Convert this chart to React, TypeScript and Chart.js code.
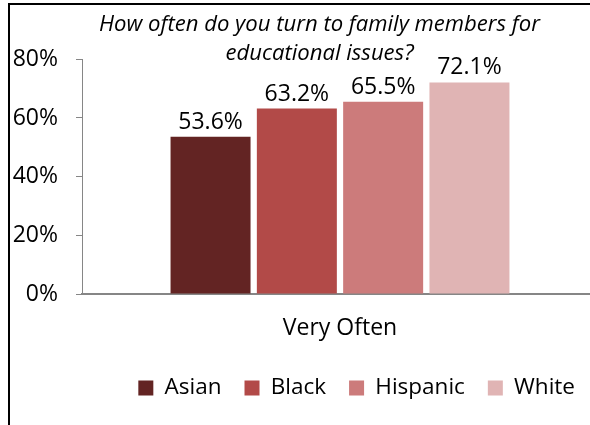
import { useEffect, useRef } from 'react';
import { Chart, registerables } from 'chart.js';

Chart.register(...registerables);

const categories = ['Very Often'];
const seriesNames = ['Asian', 'Black', 'Hispanic', 'White'];
const asianValues = [53.6];
const blackValues = [63.2];
const hispanicValues = [65.5];
const whiteValues = [72.1];
const yTicks = [0, 20, 40, 60, 80];
const titleLines = ['How often do you turn to family members for', 'educational issues?'];
const seriesColors = ['#632423', '#B24A48', '#CC7B7B', '#E0B4B4'];

const FAMILY = '"Open Sans", sans-serif';
const AXIS_GRAY = '#868686';

export default function App() {
  const ref = useRef<HTMLCanvasElement>(null);

  useEffect(() => {
    const canvas = ref.current;
    if (!canvas) return;

    const framePlugin = {
      id: 'frame',
      beforeDraw(chart: any) {
        const ctx = chart.ctx;
        ctx.save();
        ctx.fillStyle = '#ffffff';
        ctx.fillRect(0, 0, chart.width, chart.height);
        ctx.fillStyle = '#000000';
        ctx.fillRect(8, 3, 2, chart.height);
        ctx.fillRect(8, 3, chart.width, 2);
        ctx.restore();
      },
    };

    const valueLabelPlugin = {
      id: 'valueLabels',
      afterDatasetsDraw(chart: any) {
        const ctx = chart.ctx;
        ctx.save();
        ctx.font = `23px ${FAMILY}`;
        ctx.fillStyle = '#000000';
        ctx.textAlign = 'center';
        ctx.textBaseline = 'alphabetic';
        chart.data.datasets.forEach((ds: any, i: number) => {
          const meta = chart.getDatasetMeta(i);
          meta.data.forEach((el: any, j: number) => {
            const v = ds.data[j] as number;
            ctx.fillText(v.toFixed(1) + '%', el.x, el.y - 8);
          });
        });
        ctx.restore();
      },
    };

    const allValues = [asianValues, blackValues, hispanicValues, whiteValues];

    const chart = new Chart(canvas, {
      type: 'bar',
      data: {
        labels: categories,
        datasets: seriesNames.map((name, i) => ({
          label: name,
          data: allValues[i],
          backgroundColor: seriesColors[i],
          borderWidth: 0,
          categoryPercentage: 0.669,
          barPercentage: 0.927,
        })),
      },
      options: {
        responsive: false,
        animation: false,
        devicePixelRatio: 1,
        events: [],
        layout: { padding: { left: 8, right: 0, top: 0, bottom: 20.75 } },
        plugins: {
          title: {
            display: true,
            text: titleLines,
            color: '#000000',
            font: { family: FAMILY, size: 22.1, style: 'italic', weight: 'normal', lineHeight: '29px' },
            padding: { top: 10, bottom: -8.7 },
          },
          legend: {
            position: 'bottom',
            align: 'end',
            fullSize: false,
            labels: {
              boxWidth: 15,
              boxHeight: 15,
              padding: 23,
              color: '#000000',
              font: { family: FAMILY, size: 22.5 },
            },
          },
          tooltip: { enabled: false },
        },
        scales: {
          x: {
            grid: { display: false, drawTicks: false },
            border: { display: true, color: AXIS_GRAY, width: 2 },
            ticks: { color: '#000000', font: { family: FAMILY, size: 23 }, padding: 21 },
            afterFit(scale: any) {
              scale.height = 59.75;
            },
          },
          y: {
            min: 0,
            max: 80,
            afterBuildTicks(scale: any) {
              scale.ticks = yTicks.map((v) => ({ value: v }));
            },
            ticks: {
              color: '#000000',
              font: { family: FAMILY, size: 23 },
              padding: 18,
              callback: (v: any) => v + '%',
            },
            grid: { drawOnChartArea: false, drawTicks: true, tickLength: 6, color: AXIS_GRAY },
            border: { display: true, color: AXIS_GRAY, width: 1 },
            afterFit(scale: any) {
              scale.width = 74;
            },
          },
          spacer: {
            type: 'linear',
            position: 'right',
            display: true,
            grid: { display: false, drawTicks: false },
            border: { display: false },
            ticks: { display: false },
            afterFit(scale: any) {
              scale.width = 33;
            },
          },
        },
      },
      plugins: [framePlugin, valueLabelPlugin],
    });

    return () => chart.destroy();
  }, []);

  return (
    <div
      style={{
        position: 'fixed',
        left: 0,
        top: 0,
        width: 590,
        height: 425,
        overflow: 'hidden',
        background: '#ffffff',
      }}
    >
      <canvas ref={ref} width={631} height={430} style={{ display: 'block' }} />
    </div>
  );
}
